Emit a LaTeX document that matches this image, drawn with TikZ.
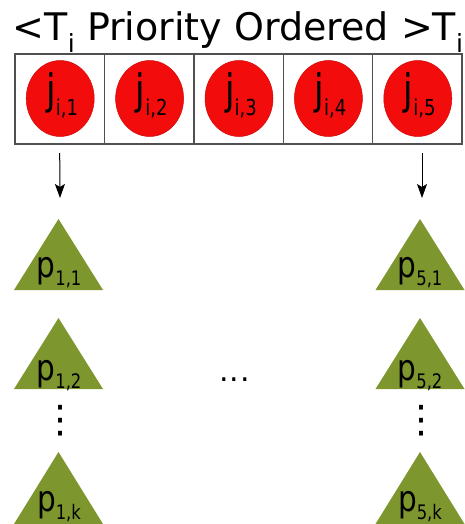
\documentclass[tikz,border=0pt]{standalone}
\usepackage{fontspec}
\setmainfont{DejaVu Sans}
\newfontfamily\narrowsans[FakeStretch=0.82]{DejaVu Sans}
\usetikzlibrary{arrows.meta,shapes.geometric}
\definecolor{jobred}{RGB}{242,12,12}
\definecolor{procgreen}{RGB}{126,150,46}
\definecolor{boxgray}{RGB}{80,80,80}
% subscript i of the title
\newcommand\subi{\raisebox{-12pt}{\fontsize{25}{25}\selectfont i}}
% job label j_{i,n}
\newcommand\joblabel[1]{{\narrowsans\fontsize{42}{42}\selectfont j\raisebox{-10pt}{\fontsize{22}{22}\selectfont i,#1}}}
% processor label p_{a,b}
\newcommand\proclabel[2]{{\narrowsans\fontsize{36}{36}\selectfont p\raisebox{-8pt}{\fontsize{20}{20}\selectfont #1,#2}}}
% green processor triangle: centre x, apex y, base y
\newcommand\proctri[3]{\fill[proc] (#1-44.5,#3) -- (#1,#2) -- (#1+44.5,#3) -- cycle;}

\begin{document}
\begin{tikzpicture}[x=1pt,y=-1pt,
  slot/.style={draw=boxgray, line width=1.4pt, minimum width=89.4pt,
    minimum height=90pt, inner sep=0pt, outer sep=0pt},
  job/.style={ellipse, fill=jobred, draw=jobred!85!black, line width=0.5pt,
    minimum width=68pt, minimum height=76pt, inner sep=0pt},
  lbl/.style={anchor=base, inner sep=0pt},
  arr/.style={-{Stealth[length=14pt,width=10pt,inset=3pt]}, line width=1pt},
  proc/.style={fill=procgreen},
  dots/.style={inner sep=0pt}]
\useasboundingbox (0,0) rectangle (465,524);

% priority-ordered queue of jobs
\foreach \k/\cx in {1/59.7,2/149.1,3/238.5,4/327.9,5/417.3}{
  \node[slot] (b\k) at (\cx,99) {};
  \node[job] (c\k) at (\cx+0.5,98.5) {};
  \node[lbl] (j\k) at (\cx+2.5,105) {\joblabel{\k}};
}

% heading
\node[lbl] (title) at (238,41) {\fontsize{38}{38}\selectfont <T\subi{} Priority Ordered >T\subi};

% arrows from first and last job
\coordinate (e1) at (60,198);
\coordinate (e5) at (422,198);
\draw[arr] ([yshift=-9pt]b1.south) -- (e1);
\draw[arr] ([xshift=4.7pt,yshift=-9pt]b5.south) -- (e5);

% processor triangles
\proctri{58.5}{219}{290}
\proctri{58.5}{318}{389}
\proctri{58.5}{452}{524}
\proctri{420}{219}{290}
\proctri{420}{318}{389}
\proctri{420}{452}{524}

\node[lbl] (p11) at (59,277) {\proclabel{1}{1}};
\node[lbl] (p12) at (59,380) {\proclabel{1}{2}};
\node[lbl] (p1k) at (59,511) {\proclabel{1}{k}};
\node[lbl] (p51) at (420,277) {\proclabel{5}{1}};
\node[lbl] (p52) at (420,380) {\proclabel{5}{2}};
\node[lbl] (p5k) at (420,511) {\proclabel{5}{k}};

% ellipses
\node[dots, font=\fontsize{38}{38}\selectfont] (vd1) at (60,421) {⋮};
\node[dots, font=\fontsize{38}{38}\selectfont] (vd5) at (421,421) {⋮};
\node[dots, font=\fontsize{30}{30}\selectfont] (hd) at (234.5,380) {.\hspace{1pt}.\hspace{1pt}.};
\end{tikzpicture}
\end{document}
